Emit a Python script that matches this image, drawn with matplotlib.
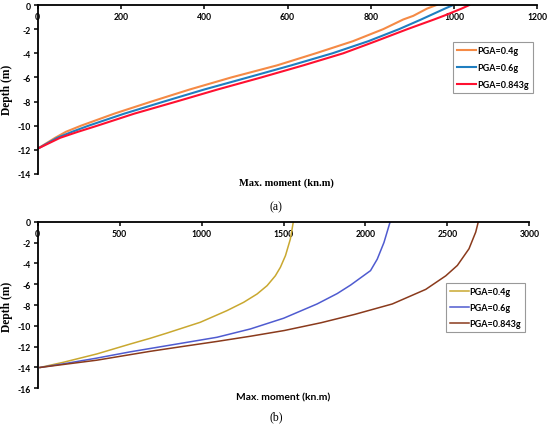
import matplotlib
matplotlib.use("Agg")
import matplotlib.pyplot as plt

plt.rcParams['axes.unicode_minus'] = False

# ---------------- Data (a) ----------------
depth_a = [0, -0.3, -0.9, -1.2, -2, -3, -4, -5, -6, -7, -8, -9, -10, -10.5, -11, -11.9]
moment_a_04 = [958, 935, 902, 878, 830, 757, 668, 575, 465, 365, 273, 184, 104, 68, 42, 0]
moment_a_06 = [998, 978, 940, 921, 868, 794, 708, 609, 505, 400, 303, 208, 122, 83, 47, 0]
moment_a_0843 = [1037, 1018, 975, 952, 888, 812, 734, 638, 537, 432, 333, 232, 143, 97, 54, 0]
labels_a = ["PGA=0.4g", "PGA=0.6g", "PGA=0.843g"]
colors_a = ["#F58A45", "#1F7EC0", "#FF1030"]
xticks_a = [0, 200, 400, 600, 800, 1000, 1200]
yticks_a = [0, -2, -4, -6, -8, -10, -12, -14]

# ---------------- Data (b) ----------------
depth_b04 = [0, -1.66, -3.26, -4.38, -5.2, -6.14, -6.94, -7.74, -8.54, -9.66, -10.7, -11.2, -11.75, -12.7, -13.5, -14.0]
moment_b04 = [1560, 1542, 1512, 1481, 1450, 1400, 1339, 1257, 1155, 992, 788, 686, 564, 361, 157, 14]
depth_b06 = [0, -2, -3.6, -4.7, -6.08, -6.9, -7.9, -9.27, -10.3, -11.1, -11.64, -12.5, -13.1, -13.65, -14.0]
moment_b06 = [2151, 2113, 2072, 2031, 1910, 1828, 1705, 1501, 1298, 1094, 890, 564, 361, 157, 14]
depth_b0843 = [0, -1.0, -2.6, -4.2, -5.2, -6.5, -7.9, -8.9, -9.7, -10.45, -11.0, -11.5, -11.97, -12.45, -13.3, -14.0]
moment_b0843 = [2689, 2673, 2632, 2561, 2490, 2368, 2164, 1935, 1730, 1505, 1298, 1094, 890, 686, 361, 14]
labels_b = ["PGA=0.4g", "PGA=0.6g", "PGA=0.843g"]
colors_b = ["#C9A830", "#4F5BD0", "#8A3A1C"]
xticks_b = [0, 500, 1000, 1500, 2000, 2500, 3000]
yticks_b = [0, -2, -4, -6, -8, -10, -12, -14, -16]

W, H = 550, 431
fig = plt.figure(figsize=(W / 100, H / 100), dpi=100)

def px_axes(x0, x1, y0, y1):
    return fig.add_axes([x0 / W, 1 - y1 / H, (x1 - x0) / W, (y1 - y0) / H])

tickfont = dict(family="Lato", weight="bold", size=6.2)
serif_bold = dict(family="Liberation Serif", weight="bold", size=8.3)
legprop = dict(family="Lato", weight="bold", size=6.5)

def style(ax, xlim, ylim, xticks, yticks):
    ax.set_xlim(*xlim)
    ax.set_ylim(*ylim)
    ax.spines['right'].set_visible(False)
    ax.spines['top'].set_visible(False)
    ax.spines['bottom'].set_position(('data', 0))
    for s in ('left', 'bottom'):
        ax.spines[s].set_linewidth(1.3)
        ax.spines[s].set_color('black')
    ax.set_xticks(xticks)
    ax.set_yticks(yticks)
    ax.set_xticklabels([str(t) for t in xticks], **tickfont)
    ax.set_yticklabels([str(t) for t in yticks], **tickfont)
    ax.tick_params(axis='both', direction='out', length=3, width=1.1, pad=2, colors='black')
    ax.patch.set_alpha(0)

# ---- panel (a)
ax1 = px_axes(37.7, 537.3, 6, 175)
for m, lab, c in zip([moment_a_04, moment_a_06, moment_a_0843], labels_a, colors_a):
    ax1.plot(m, depth_a, color=c, lw=1.5, label=lab)
style(ax1, (0, 1200), (-14, 0), xticks_a, yticks_a)
fig.text(7 / W, 1 - 90 / H, "Depth (m)", rotation=90, ha='center', va='center', **serif_bold)
fig.text(286 / W, 1 - 183 / H, "Max. moment (kn.m)", ha='center', va='center',
         family="Liberation Serif", weight="bold", size=7.6)
fig.text(276 / W, 1 - 207 / H, "(a)", ha='center', va='center', family="Liberation Serif", size=8.5)
leg1 = ax1.legend(loc='upper left', bbox_to_anchor=(452.7 / W, 1 - 43.3 / H), bbox_transform=fig.transFigure,
                  frameon=True, fancybox=False, edgecolor='#808080', borderaxespad=0, prop=legprop,
                  handlelength=2.1, handletextpad=0.2, labelspacing=0.85, borderpad=0.45)
leg1.get_frame().set_linewidth(0.8)

# ---- panel (b)
ax2 = px_axes(37.7, 529.3, 222.7, 389.3)
for m, d, lab, c in zip([moment_b04, moment_b06, moment_b0843], [depth_b04, depth_b06, depth_b0843], labels_b, colors_b):
    ax2.plot(m, d, color=c, lw=1.1, label=lab)
style(ax2, (0, 3000), (-16, 0), xticks_b, yticks_b)
fig.text(7 / W, 1 - 307 / H, "Depth (m)", rotation=90, ha='center', va='center', **serif_bold)
fig.text(283 / W, 1 - 398 / H, "Max. moment (kn.m)", ha='center', va='center',
         family="Lato", weight="bold", size=7.4)
fig.text(276 / W, 1 - 417 / H, "(b)", ha='center', va='center', family="Liberation Serif", size=8.5)
leg2 = ax2.legend(loc='upper left', bbox_to_anchor=(445.7 / W, 1 - 284 / H), bbox_transform=fig.transFigure,
                  frameon=True, fancybox=False, edgecolor='#808080', borderaxespad=0, prop=legprop,
                  handlelength=2.1, handletextpad=0.1, labelspacing=0.78, borderpad=0.45)
leg2.get_frame().set_linewidth(0.8)

fig.savefig("out.png", dpi=100)
